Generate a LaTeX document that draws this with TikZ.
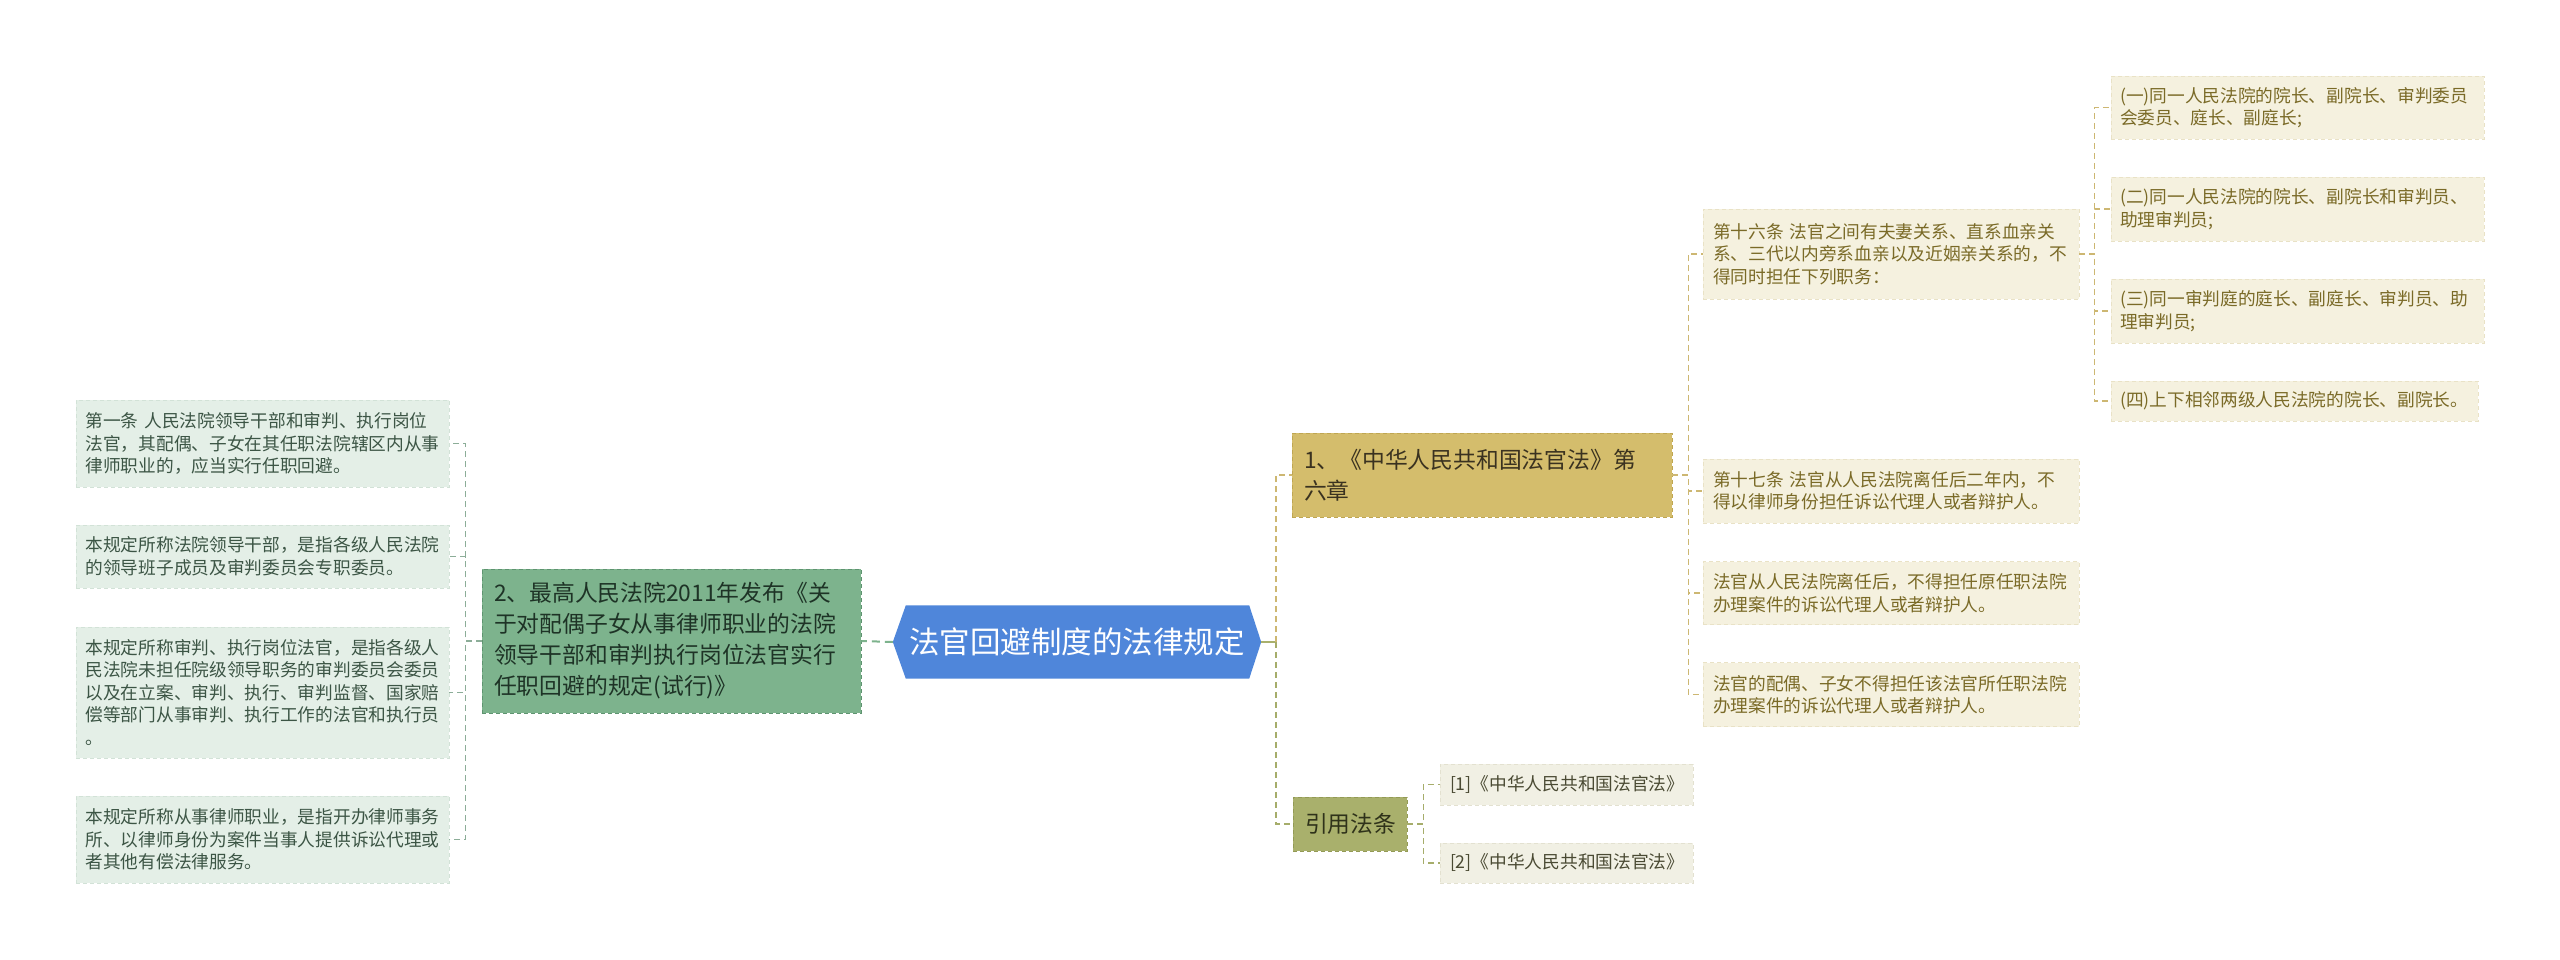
\documentclass[tikz,border=0pt]{standalone}
\usepackage{fontspec}
\setmainfont{Noto Sans CJK SC}
\usetikzlibrary{backgrounds}
\definecolor{rootblue}{HTML}{4F86DA}
\definecolor{lmainfill}{HTML}{7DB38D}
\definecolor{lmainborder}{HTML}{5E9470}
\definecolor{lmaintext}{HTML}{1E3326}
\definecolor{lleaffill}{HTML}{E4EFE7}
\definecolor{lleafborder}{HTML}{D2E2D7}
\definecolor{lleaftext}{HTML}{3C5545}
\definecolor{lconn}{HTML}{8CAD98}
\definecolor{gmainfill}{HTML}{D4BD6C}
\definecolor{gmainborder}{HTML}{BFA652}
\definecolor{gmaintext}{HTML}{3A3220}
\definecolor{gleaffill}{HTML}{F5F1DF}
\definecolor{gleafborder}{HTML}{E9E2C6}
\definecolor{gleaftext}{HTML}{7A6A27}
\definecolor{gconn}{HTML}{CDB772}
\definecolor{omainfill}{HTML}{A9B06C}
\definecolor{omainborder}{HTML}{939A55}
\definecolor{omaintext}{HTML}{2F321A}
\definecolor{oleaffill}{HTML}{F1F0E4}
\definecolor{oleafborder}{HTML}{E3E1D0}
\definecolor{oleaftext}{HTML}{4A4A33}
\definecolor{oconn}{HTML}{A6AD6B}
\begin{document}
\begin{tikzpicture}[x=1pt,y=-1pt,
  basebox/.style={align=left, inner ysep=0pt, dash pattern=on 4pt off 3pt, line width=0.8pt},
  smallfont/.style={font=\fontsize{17.7}{22.5}\selectfont},
  midfont/.style={font=\fontsize{22.8}{31}\selectfont},
  lleaf/.style={basebox, smallfont, fill=lleaffill, draw=lleafborder, text=lleaftext, inner xsep=9.5pt, text width=354pt},
  gleaf/.style={basebox, smallfont, fill=gleaffill, draw=gleafborder, text=gleaftext, inner xsep=10pt, text width=356pt},
  pleaf/.style={basebox, smallfont, fill=gleaffill, draw=gleafborder, text=gleaftext, inner xsep=9pt, text width=355pt},
  oleaf/.style={basebox, smallfont, fill=oleaffill, draw=oleafborder, text=oleaftext, inner xsep=10pt, text width=233pt},
  lmainbox/.style={basebox, midfont, fill=lmainfill, draw=lmainborder, text=lmaintext, inner xsep=12pt, text width=355pt},
  gmainbox/.style={basebox, midfont, fill=gmainfill, draw=gmainborder, text=gmaintext, inner xsep=12pt, text width=356pt},
  omainbox/.style={basebox, midfont, fill=omainfill, draw=omainborder, text=omaintext, inner xsep=12pt, text width=90pt},
  rootbox/.style={inner sep=0pt, minimum width=368pt, minimum height=73pt, text=white, font=\fontsize{30.5}{36}\selectfont},
  conn/.style={line width=1.6pt, dash pattern=on 6pt off 4pt},
  lline/.style={conn, draw=lconn},
  gline/.style={conn, draw=gconn},
  oline/.style={conn, draw=oconn}
]
\useasboundingbox (0,0) rectangle (2560,960);

% root
\node[rootbox] (root) at (1077,642) {法官回避制度的法律规定};

% left side
\node[lmainbox, minimum height=144pt] (lmain) at (671.5,641) {2、最高人民法院2011年发布《关\\于对配偶子女从事律师职业的法院\\领导干部和审判执行岗位法官实行\\任职回避的规定(试行)》};
\node[lleaf, minimum height=87pt] (l1) at (262.5,443.5) {第一条 人民法院领导干部和审判、执行岗位\\法官，其配偶、子女在其任职法院辖区内从事\\律师职业的，应当实行任职回避。};
\node[lleaf, minimum height=63pt] (l2) at (262.5,556.5) {本规定所称法院领导干部，是指各级人民法院\\的领导班子成员及审判委员会专职委员。};
\node[lleaf, minimum height=131pt] (l3) at (262.5,692.5) {本规定所称审判、执行岗位法官，是指各级人\\民法院未担任院级领导职务的审判委员会委员\\以及在立案、审判、执行、审判监督、国家赔\\偿等部门从事审判、执行工作的法官和执行员\\。};
\node[lleaf, minimum height=87pt] (l4) at (262.5,839.5) {本规定所称从事律师职业，是指开办律师事务\\所、以律师身份为案件当事人提供诉讼代理或\\者其他有偿法律服务。};

% right side main branches
\node[gmainbox, minimum height=84pt] (b1) at (1482,475) {1、《中华人民共和国法官法》第\\六章};
\node[omainbox, minimum height=54pt] (b2) at (1350,824) {引用法条};

% branch 1 leaves
\node[gleaf, minimum height=90pt] (r16) at (1891,254) {第十六条 法官之间有夫妻关系、直系血亲关\\系、三代以内旁系血亲以及近姻亲关系的，不\\得同时担任下列职务：};
\node[gleaf, minimum height=64pt] (r17) at (1891,491) {第十七条 法官从人民法院离任后二年内，不\\得以律师身份担任诉讼代理人或者辩护人。};
\node[gleaf, minimum height=63pt] (r18) at (1891,593) {法官从人民法院离任后，不得担任原任职法院\\办理案件的诉讼代理人或者辩护人。};
\node[gleaf, minimum height=64pt] (r19) at (1891,694.5) {法官的配偶、子女不得担任该法官所任职法院\\办理案件的诉讼代理人或者辩护人。};

% article 16 items
\node[pleaf, minimum height=63pt] (p1) at (2297.5,107.5) {(一)同一人民法院的院长、副院长、审判委员\\会委员、庭长、副庭长;};
\node[pleaf, minimum height=64pt] (p2) at (2297.5,209) {(二)同一人民法院的院长、副院长和审判员、\\助理审判员;};
\node[pleaf, minimum height=64pt] (p3) at (2297.5,311) {(三)同一审判庭的庭长、副庭长、审判员、助\\理审判员;};
\node[pleaf, text width=349pt, minimum height=40pt] (p4) at (2294.5,401) {(四)上下相邻两级人民法院的院长、副院长。};

% references
\node[oleaf, minimum height=41pt] (o1) at (1566.5,784.5) {[1]《中华人民共和国法官法》};
\node[oleaf, minimum height=40pt] (o2) at (1566.5,863) {[2]《中华人民共和国法官法》};

% root hexagon background
\begin{scope}[on background layer]
\fill[white] (0,0) rectangle (2560,960);
\fill[rootblue] (root.west) -- ([xshift=13pt]root.north west) -- ([xshift=-12pt]root.north east) -- (root.east) -- ([xshift=-12pt]root.south east) -- ([xshift=13pt]root.south west) -- cycle;
\end{scope}

% connectors: left
\draw[line width=2pt, draw=lmainfill, dash pattern=on 8pt off 5pt] (root.west) -- (lmain.east);
\foreach \n in {l1,l2,l3,l4}{
  \draw[lline] (lmain.west) -- ([xshift=-16pt]lmain.west) |- (\n.east);
}

% connectors: right
\draw[line width=2pt, draw=omainfill] (root.east) -- ([xshift=15pt]root.east) coordinate (rj);
\draw[gline] (rj) |- (b1.west);
\draw[oline] (rj) |- (b2.west);

\foreach \n in {r16,r17,r18,r19}{
  \draw[gline] (b1.east) -- ([xshift=16pt]b1.east) |- (\n.west);
}
\foreach \n in {p1,p2,p3,p4}{
  \draw[gline] (r16.east) -- ([xshift=15pt]r16.east) |- (\n.west);
}
\foreach \n in {o1,o2}{
  \draw[oline] (b2.east) -- ([xshift=16pt]b2.east) |- (\n.west);
}
\end{tikzpicture}
\end{document}
